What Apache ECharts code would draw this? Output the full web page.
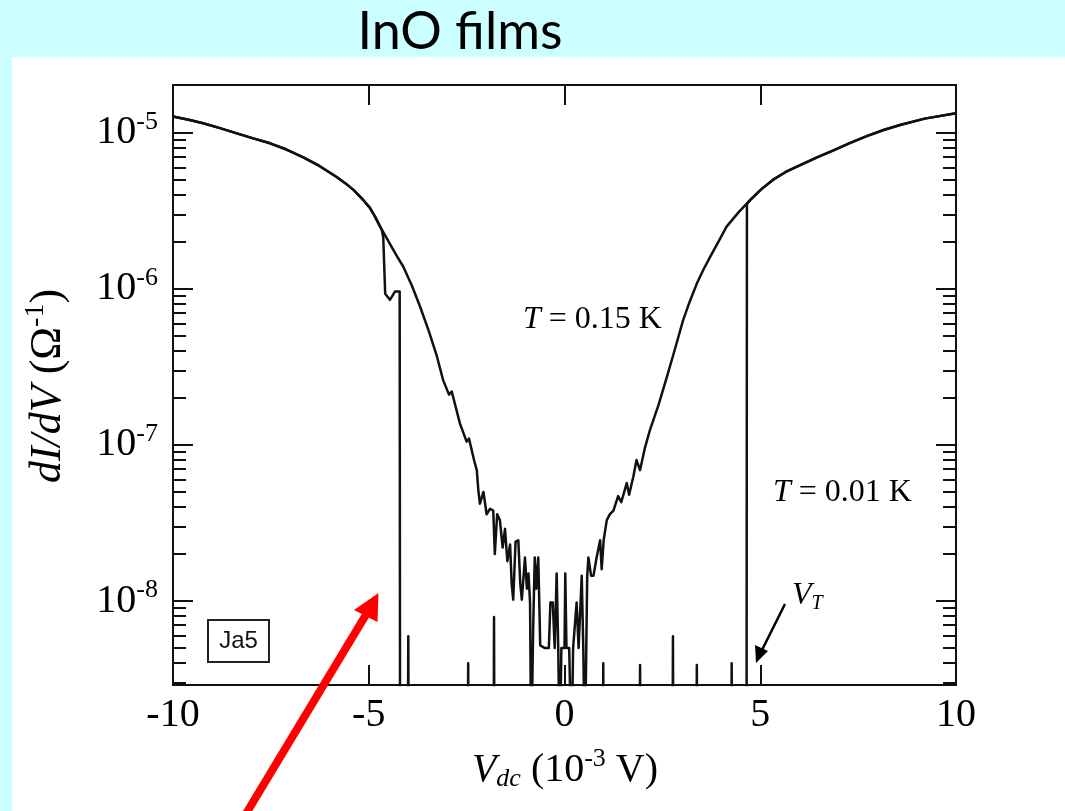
<!DOCTYPE html>
<html>
<head>
<meta charset="utf-8">
<title>InO films</title>
<script src="https://cdn.jsdelivr.net/npm/echarts@6/dist/echarts.min.js"></script>
<style>
  html, body { margin: 0; padding: 0; background: #ccffff; }
  #chart { width: 1065px; height: 811px; }
</style>
</head>
<body>
<div id="chart"></div>
<script>
// Differential conductance dI/dV vs dc bias, sample Ja5
// T = 0.15 K trace: bias (mV) and conductance (1/Ohm)
const vdcWarm = [
  -10.00, -9.60, -9.23, -8.80, -8.37, -7.95, -7.52, -7.10, -6.67, -6.25,
  -5.82, -5.60, -5.39, -5.18, -4.97, -4.84, -4.71, -4.56, -4.42, -4.27,
  -4.12, -3.90, -3.69, -3.47, -3.26, -3.10, -2.95, -2.88, -2.67, -2.50,
  -2.44, -2.30, -2.24, -2.20, -2.16, -2.07, -1.99, -1.90, -1.82, -1.78,
  -1.72, -1.65, -1.58, -1.52, -1.46, -1.39, -1.35, -1.31, -1.25, -1.18,
  -1.13, -1.09, -1.01, -0.96, -0.92, -0.88, -0.85, -0.80, -0.76, -0.72,
  -0.67, -0.62, -0.58, -0.50, -0.40, -0.36, -0.30, -0.25, -0.20, -0.16,
  -0.12, -0.08, 0.00, 0.02, 0.05, 0.12, 0.18, 0.22, 0.31, 0.36,
  0.44, 0.48, 0.52, 0.58, 0.61, 0.68, 0.74, 0.82, 0.91, 0.95,
  1.00, 1.08, 1.16, 1.25, 1.37, 1.45, 1.59, 1.65, 1.76, 1.84,
  1.93, 2.05, 2.18, 2.40, 2.61, 2.82, 3.03, 3.20, 3.38, 3.55,
  3.72, 3.93, 4.14, 4.45, 4.74, 5.03, 5.33, 5.65, 6.02, 6.45,
  6.87, 7.30, 7.72, 8.15, 8.57, 9.20, 10.00
];
const gWarm = [
  1.27e-5, 1.21e-5, 1.15e-5, 1.07e-5, 9.9e-6, 9.2e-6, 8.55e-6, 7.8e-6, 6.95e-6, 6.1e-6,
  5.2e-6, 4.75e-6, 4.3e-6, 3.8e-6, 3.3e-6, 2.9e-6, 2.5e-6, 2.15e-6, 1.86e-6, 1.6e-6,
  1.39e-6, 1.05e-6, 7.7e-7, 5.4e-7, 3.7e-7, 2.6e-7, 2.1e-7, 2.2e-7, 1.37e-7, 1.05e-7,
  1.1e-7, 7.8e-8, 6.9e-8, 5.1e-8, 4.2e-8, 5.0e-8, 3.6e-8, 3.9e-8, 3.8e-8, 2.0e-8,
  3.6e-8, 3.3e-8, 2.2e-8, 2.9e-8, 1.8e-8, 2.3e-8, 1.3e-8, 1.02e-8, 2.4e-8, 2.45e-8,
  1.3e-8, 1.02e-8, 1.9e-8, 1.2e-8, 1.5e-8, 9.8e-9, 1e-9, 6.8e-9, 1.9e-8, 1.2e-8,
  1.9e-8, 5.2e-9, 5.2e-9, 5.0e-9, 5.0e-9, 9.8e-9, 9.8e-9, 5.0e-9, 1.5e-8, 5.0e-9,
  1e-9, 5.0e-9, 5.0e-9, 1.5e-8, 5.0e-9, 5.0e-9, 1e-9, 5.0e-9, 9.8e-9, 5.0e-9,
  1.45e-8, 5.0e-9, 1e-9, 1.45e-8, 1.9e-8, 1.45e-8, 1.45e-8, 1.9e-8, 2.45e-8, 1.6e-8,
  2.45e-8, 3.3e-8, 3.6e-8, 3.8e-8, 4.7e-8, 4.3e-8, 5.7e-8, 4.8e-8, 6.3e-8, 8.0e-8,
  6.9e-8, 9.5e-8, 1.24e-7, 1.8e-7, 2.7e-7, 4.1e-7, 6.3e-7, 8.3e-7, 1.08e-6, 1.33e-6,
  1.6e-6, 2.0e-6, 2.5e-6, 3.1e-6, 3.7e-6, 4.35e-6, 5.0e-6, 5.6e-6, 6.2e-6, 6.95e-6,
  7.7e-6, 8.6e-6, 9.5e-6, 1.04e-5, 1.12e-5, 1.23e-5, 1.33e-5
];

// T = 0.01 K trace inside the gap (outside it follows the 0.15 K trace)
const vdcCold = [
  -4.67, -4.63, -4.58, -4.46, -4.33, -4.21, -4.20,
  -4.00, -3.99, -3.98, -2.47, -2.46, -2.45, -1.81, -1.80, -1.79,
  0.98, 0.99, 1.00, 1.92, 1.93, 1.94, 2.76, 2.77, 2.78,
  3.37, 3.38, 3.39, 4.26, 4.27, 4.28, 4.65, 4.66
];
const gCold = [
  2.4e-6, 2.15e-6, 9.3e-7, 8.5e-7, 9.6e-7, 9.6e-7, 1e-9,
  1e-9, 5.96e-9, 1e-9, 1e-9, 4.0e-9, 1e-9, 1e-9, 7.9e-9, 1e-9,
  1e-9, 4.0e-9, 1e-9, 1e-9, 3.9e-9, 1e-9, 1e-9, 5.96e-9, 1e-9,
  1e-9, 3.9e-9, 1e-9, 1e-9, 4.0e-9, 1e-9, 1e-9, 3.5e-6
];
const coldJoinLeft = -4.71;   // below this bias both traces coincide
const coldJoinRight = 4.74;   // above this bias both traces coincide

// axis ranges and ticks
const xMin = -10, xMax = 10, xStep = 5;
const gMin = 2.9e-9, gMax = 2.02e-5;
const majorTicks = [1e-8, 1e-7, 1e-6, 1e-5];
const minorTicks = [];
[-9, -8, -7, -6].forEach(function (e) {
  for (let k = 2; k <= 9; k++) minorTicks.push(k * Math.pow(10, e));
});

const warmData = vdcWarm.map(function (v, i) { return [v, gWarm[i]]; });
const coldData = []
  .concat(warmData.filter(function (p) { return p[0] <= coldJoinLeft; }))
  .concat(vdcCold.map(function (v, i) { return [v, gCold[i]]; }))
  .concat(warmData.filter(function (p) { return p[0] >= coldJoinRight; }));

const serif = '"Liberation Serif", "Times New Roman", serif';
const ink = '#111';

function logAxis(pos, ticks, len, withLabels) {
  return {
    type: 'log', logBase: 10, min: gMin, max: gMax, position: pos,
    axisLine: { show: true, onZero: false, lineStyle: { color: ink, width: 2 } },
    axisTick: { show: true, inside: true, length: len, customValues: ticks,
                lineStyle: { color: ink, width: 2 } },
    axisLabel: withLabels ? {
      show: true, customValues: ticks, margin: 15, color: '#000',
      formatter: function (v) {
        return '{b|10}{s|' + Math.round(Math.log10(v)) + '}';
      },
      rich: {
        b: { fontFamily: serif, fontSize: 40, color: '#000' },
        s: { fontFamily: serif, fontSize: 26, color: '#000', padding: [0, 0, 22, 0] }
      }
    } : { show: false },
    splitLine: { show: false },
    minorTick: { show: false }
  };
}

function linAxis(pos, withLabels) {
  return {
    type: 'value', min: xMin, max: xMax, interval: xStep, position: pos,
    axisLine: { show: true, onZero: false, lineStyle: { color: ink, width: 2 } },
    axisTick: { show: true, inside: true, length: 20, lineStyle: { color: ink, width: 2 } },
    axisLabel: withLabels ? { show: true, fontFamily: serif, fontSize: 40, color: '#000', margin: 10 }
                          : { show: false },
    splitLine: { show: false }
  };
}

const chart = echarts.init(document.getElementById('chart'), null, { renderer: 'canvas' });

chart.setOption({
  backgroundColor: '#ccffff',
  animation: false,
  grid: { left: 173, right: 109, top: 85, bottom: 126, containLabel: false },
  xAxis: [linAxis('bottom', true), linAxis('top', false)],
  yAxis: [
    logAxis('left', majorTicks, 20, true),
    logAxis('left', minorTicks, 13, false),
    logAxis('right', majorTicks, 20, false),
    logAxis('right', minorTicks, 13, false)
  ],
  series: [
    {
      name: 'T = 0.15 K', type: 'line', data: warmData,
      showSymbol: false, clip: true, z: 3,
      lineStyle: { color: ink, width: 2.5, join: 'round' }
    },
    {
      name: 'T = 0.01 K', type: 'line', data: coldData,
      showSymbol: false, clip: true, z: 3,
      lineStyle: { color: ink, width: 2.5, join: 'round' }
    }
  ],
  graphic: [
    // white panel behind the plot
    { type: 'rect', z: -10, silent: true,
      shape: { x: 12, y: 57, width: 1053, height: 754 },
      style: { fill: '#ffffff' } },
    // slide heading
    { type: 'text', x: 460, y: 32, z: 10,
      style: { text: 'InO films', font: '52px Lato, "Noto Sans", sans-serif',
               fill: '#000', align: 'center', verticalAlign: 'middle' } },
    // y-axis title
    { type: 'text', x: 48, y: 386, rotation: Math.PI / 2, z: 10,
      style: {
        text: '{i|dI/dV}{r| (Ω}{s|-1}{r|)}', align: 'center', verticalAlign: 'middle',
        rich: {
          i: { fontFamily: serif, fontStyle: 'italic', fontSize: 44, fill: '#000' },
          r: { fontFamily: serif, fontSize: 44, fill: '#000' },
          s: { fontFamily: serif, fontSize: 28, fill: '#000', padding: [0, 0, 24, 0] }
        }
      } },
    // x-axis title
    { type: 'text', x: 565, y: 770, z: 10,
      style: {
        text: '{i|V}{d|dc}{r| (10}{s|-3}{r| V)}', align: 'center', verticalAlign: 'middle',
        rich: {
          i: { fontFamily: serif, fontStyle: 'italic', fontSize: 40, fill: '#000' },
          d: { fontFamily: serif, fontStyle: 'italic', fontSize: 26, fill: '#000', padding: [18, 0, 0, 0] },
          r: { fontFamily: serif, fontSize: 40, fill: '#000' },
          s: { fontFamily: serif, fontSize: 26, fill: '#000', padding: [0, 0, 22, 0] }
        }
      } },
    // trace labels
    { type: 'text', x: 523, y: 320, z: 10,
      style: {
        text: '{i|T}{r| = 0.15 K}', align: 'left', verticalAlign: 'middle',
        rich: {
          i: { fontFamily: serif, fontStyle: 'italic', fontSize: 32, fill: '#000' },
          r: { fontFamily: serif, fontSize: 32, fill: '#000' }
        }
      } },
    { type: 'text', x: 773, y: 493, z: 10,
      style: {
        text: '{i|T}{r| = 0.01 K}', align: 'left', verticalAlign: 'middle',
        rich: {
          i: { fontFamily: serif, fontStyle: 'italic', fontSize: 32, fill: '#000' },
          r: { fontFamily: serif, fontSize: 32, fill: '#000' }
        }
      } },
    // threshold voltage marker
    { type: 'text', x: 792, y: 596, z: 10,
      style: {
        text: '{i|V}{t|T}', align: 'left', verticalAlign: 'middle',
        rich: {
          i: { fontFamily: serif, fontStyle: 'italic', fontSize: 32, fill: '#000' },
          t: { fontFamily: serif, fontStyle: 'italic', fontSize: 20, fill: '#000', padding: [16, 0, 0, 0] }
        }
      } },
    { type: 'line', z: 10, silent: true,
      shape: { x1: 785, y1: 604, x2: 762, y2: 650 },
      style: { stroke: '#000', lineWidth: 2.5 } },
    { type: 'polygon', z: 10, silent: true,
      shape: { points: [[756, 663], [755, 645], [768, 651]] },
      style: { fill: '#000' } },
    // sample tag
    { type: 'rect', z: 10, silent: true,
      shape: { x: 208, y: 620, width: 61, height: 42 },
      style: { fill: '#fff', stroke: '#222', lineWidth: 2 } },
    { type: 'text', x: 238.5, y: 641, z: 11,
      style: { text: 'Ja5', font: '24px "Liberation Sans", Arial, sans-serif',
               fill: '#111', align: 'center', verticalAlign: 'middle' } },
    // red pointer
    { type: 'line', z: 12, silent: true,
      shape: { x1: 235, y1: 832, x2: 367, y2: 613 },
      style: { stroke: '#ff0000', lineWidth: 8 } },
    { type: 'polygon', z: 12, silent: true,
      shape: { points: [[378.5, 593], [354, 610], [377.5, 622]] },
      style: { fill: '#ff0000' } }
  ]
});
</script>
</body>
</html>
